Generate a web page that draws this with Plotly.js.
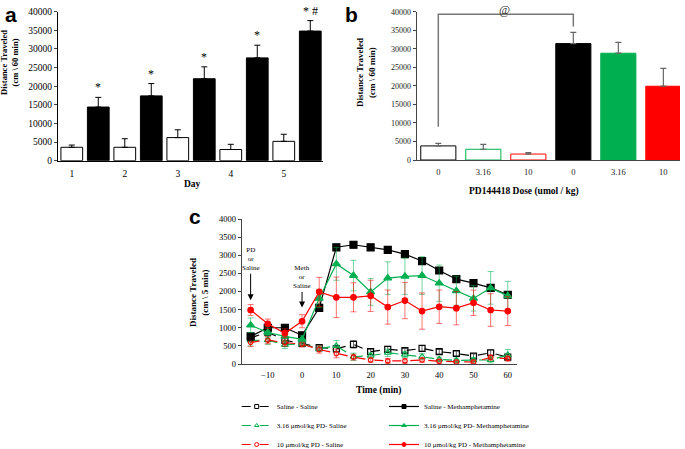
<!DOCTYPE html>
<html>
<head>
<meta charset="utf-8">
<script src="https://cdn.plot.ly/plotly-3.0.1.min.js"></script>
<style>html,body{margin:0;padding:0;background:#fff}#chart{width:685px;height:449px}</style>
</head>
<body>
<div id="chart"></div>
<script>
// ---------- Panel a ----------
const days = [1, 2, 3, 4, 5];
const dayLabels = ['1', '2', '3', '4', '5'];
const salineA = [3600, 3600, 6200, 3000, 5200];
const salineAErr = [600, 2300, 2100, 1400, 1900];
const methA = [14400, 17400, 22000, 27600, 34800];
const methAErr = [2600, 3300, 3200, 3400, 2800];
const sigA = ['*', '*', '*', '*', '* #'];

// ---------- Panel b ----------
const doseLabels = ['0', '3.16', '10', '0', '3.16', '10'];
const doseVals = [3800, 2900, 1600, 31400, 28800, 19900];
const doseErr = [700, 1300, 400, 3000, 2900, 4800];
const doseFill = ['#ffffff', '#ffffff', '#ffffff', '#000000', '#00b050', '#ff0000'];
const doseLine = ['#000000', '#00b050', '#ff0000', '#000000', '#00b050', '#ff0000'];

// ---------- Panel c ----------
const time = [-15, -10, -5, 0, 5, 10, 15, 20, 25, 30, 35, 40, 45, 50, 55, 60];
const timeTicks = [-10, 0, 10, 20, 30, 40, 50, 60];
const salSal = [720, 880, 650, 570, 450, 420, 540, 340, 405, 370, 430, 340, 290, 220, 310, 190];
const salSalErr = [100, 100, 90, 80, 70, 80, 100, 70, 80, 60, 80, 60, 60, 60, 70, 60];
const salMeth = [760, 1000, 1000, 790, 1550, 3220, 3290, 3220, 3150, 3030, 2840, 2580, 2340, 2230, 2100, 1910];
const salMethErr = [100, 80, 70, 80, 100, 80, 90, 80, 70, 60, 90, 80, 80, 70, 80, 90];
const pd316Sal = [650, 660, 530, 560, 420, 500, 200, 230, 310, 260, 200, 130, 100, 110, 110, 250];
const pd316SalErr = [150, 120, 100, 80, 80, 150, 100, 80, 100, 80, 80, 60, 60, 70, 80, 150];
const pd316Meth = [1070, 870, 760, 680, 1810, 2760, 2440, 1990, 2370, 2420, 2440, 2230, 2020, 1810, 2100, 1880];
const pd316MethErr = [200, 150, 120, 100, 250, 450, 420, 370, 450, 500, 520, 500, 400, 350, 450, 400];
const pd10Sal = [600, 660, 590, 550, 400, 290, 190, 110, 85, 85, 110, 75, 55, 55, 180, 150];
const pd10SalErr = [120, 100, 100, 80, 100, 120, 80, 60, 60, 60, 60, 50, 50, 50, 70, 70];
const pd10Meth = [1490, 1110, 850, 1180, 1990, 1840, 1840, 1880, 1570, 1750, 1460, 1580, 1540, 1690, 1490, 1460];
const pd10MethErr = [150, 130, 120, 180, 400, 560, 400, 430, 470, 500, 500, 460, 460, 350, 450, 400];
const seriesNames = ['Saline - Saline', 'Saline - Methamphetamine',
  '3.16 \u03bcmol/kg PD- Saline', '3.16 \u03bcmol/kg PD- Methamphetamine',
  '10 \u03bcmol/kg PD - Saline', '10 \u03bcmol/kg PD - Methamphetamine'];

const SERIF = 'Liberation Serif, Times New Roman, serif';
const GREEN = '#00b050', RED = '#ff0000';

const traces = [];
// panel a bars
traces.push({type: 'bar', x: days, y: salineA, width: 0.41, xaxis: 'x', yaxis: 'y',
  marker: {color: '#ffffff', line: {color: '#000', width: 1}},
  error_y: {type: 'data', symmetric: false, array: salineAErr, arrayminus: salineAErr.map(() => 0), color: '#000', thickness: 1, width: 3},
  showlegend: false, hoverinfo: 'skip'});
traces.push({type: 'bar', x: days.map(d => d + 0.5), y: methA, width: 0.41, xaxis: 'x', yaxis: 'y',
  marker: {color: '#000000', line: {color: '#000', width: 1}},
  error_y: {type: 'data', symmetric: false, array: methAErr, arrayminus: methAErr.map(() => 0), color: '#000', thickness: 1, width: 3},
  showlegend: false, hoverinfo: 'skip'});
// panel b bars
const doseIdx = doseLabels.map((_, i) => i);
traces.push({type: 'bar', x: doseIdx, y: doseVals, width: 0.78, xaxis: 'x2', yaxis: 'y2',
  marker: {color: doseFill, line: {color: doseLine, width: 1}},
  error_y: {type: 'data', symmetric: false, array: doseErr, arrayminus: doseErr.map(() => 0), color: '#666', thickness: 1.2, width: 3},
  showlegend: false, hoverinfo: 'skip'});

// panel c lines
function line(y, err, color, symbol, dash, size, errColor) {
  return {type: 'scatter', mode: 'lines+markers', x: time, y: y, xaxis: 'x3', yaxis: 'y3', showlegend: false,
    line: {color: color, width: 1.2, dash: dash},
    marker: {color: color, symbol: symbol, size: size, line: {color: color, width: 1.2}},
    error_y: {type: 'data', array: err, color: errColor, thickness: 1, width: 3},
    hoverinfo: 'skip'};
}
function legendEntry(name, color, symbol, dash, legend) {
  return {type: 'scatter', mode: 'lines+markers', x: [null], y: [null], xaxis: 'x3', yaxis: 'y3', name: name,
    legend: legend, line: {color: color, width: 1.2, dash: dash},
    marker: {color: color, symbol: symbol, size: 4, line: {color: color, width: 1}}, hoverinfo: 'skip'};
}
traces.push(line(salSal, salSalErr, '#000', 'square-open', 'dash', 6, 'rgba(0,0,0,0.6)'));
traces.push(line(pd316Sal, pd316SalErr, GREEN, 'triangle-up-open', 'dash', 6, 'rgba(0,176,80,0.55)'));
traces.push(line(pd10Sal, pd10SalErr, RED, 'circle-open', 'dash', 4.5, 'rgba(255,0,0,0.55)'));
traces.push(line(salMeth, salMethErr, '#000', 'square', 'solid', 7, 'rgba(0,0,0,0.6)'));
traces.push(line(pd316Meth, pd316MethErr, GREEN, 'triangle-up', 'solid', 7, 'rgba(0,176,80,0.55)'));
traces.push(line(pd10Meth, pd10MethErr, RED, 'circle', 'solid', 5.5, 'rgba(255,0,0,0.55)'));
traces.push(legendEntry(seriesNames[0], '#000', 'square-open', 'dash', 'legend'));
traces.push(legendEntry(seriesNames[2], GREEN, 'triangle-up-open', 'dash', 'legend'));
traces.push(legendEntry(seriesNames[4], RED, 'circle-open', 'dash', 'legend'));
traces.push(legendEntry(seriesNames[1], '#000', 'square', 'solid', 'legend2'));
traces.push(legendEntry(seriesNames[3], GREEN, 'triangle-up', 'solid', 'legend2'));
traces.push(legendEntry(seriesNames[5], RED, 'circle', 'solid', 'legend2'));

const W = 685, H = 449;
const annotations = [];
// asterisks panel a
days.forEach((d, i) => {
  annotations.push({xref: 'x', yref: 'y', x: d + 0.5, y: methA[i] + methAErr[i], text: sigA[i],
    showarrow: false, yanchor: 'bottom', yshift: 1, font: {family: SERIF, size: 12, color: '#000'}});
});
// @ for panel b
annotations.push({xref: 'x2', yref: 'paper', x: 1.48, y: (H - 1) / H, text: '@', showarrow: false,
  yanchor: 'top', font: {family: SERIF, size: 12, color: '#333'}});
// arrows panel c
annotations.push({xref: 'x3', yref: 'y3', x: time[0], y: 1760, text: 'PD<br>or<br>Saline', showarrow: true,
  arrowhead: 2, arrowsize: 1.2, arrowwidth: 1, arrowcolor: '#000', ax: 0, ay: -41,
  font: {family: SERIF, size: 7, color: '#000'}});
annotations.push({xref: 'x3', yref: 'y3', x: time[3], y: 1560, text: 'Meth<br>or<br>Saline', showarrow: true,
  arrowhead: 2, arrowsize: 1.2, arrowwidth: 1, arrowcolor: '#000', ax: 0, ay: -30,
  font: {family: SERIF, size: 7, color: '#000'}});
// panel letters
[['a', 3, 1], ['b', 343, 1], ['c', 187, 203]].forEach(p => {
  annotations.push({xref: 'paper', yref: 'paper', x: p[1] / W, y: 1 - p[2] / H, text: '<b>' + p[0] + '</b>',
    showarrow: false, xanchor: 'left', yanchor: 'top', font: {family: 'Liberation Sans, Arial, sans-serif', size: 21, color: '#000'}});
});
// axis titles (placed as paper annotations)
function title(text, px, py, size, angle) {
  annotations.push({xref: 'paper', yref: 'paper', x: px / W, y: 1 - py / H, text: '<b>' + text + '</b>',
    showarrow: false, xanchor: 'center', yanchor: 'middle', textangle: angle || 0,
    font: {family: SERIF, size: size, color: '#000'}});
}
title('Distance Traveled<br>(cm \\ 60 min)', 10, 63, 8.5, -90);
title('Day', 192, 184, 9.5);
title('Distance Traveled<br>(cm \\ 60 min)', 366, 72, 9, -90);
title('PD144418 Dose (umol / kg)', 523.5, 191, 9.5);
title('Distance Traveled<br>(cm \\ 5 min)', 199, 293, 9, -90);
title('Time (min)', 379, 390.5, 9.5);

const shapes = [
  {type: 'path', xref: 'x2', yref: 'y2', path: 'M 0 9000 L 0 39300 L 3 39300 L 3 36000',
    line: {color: '#777', width: 1.5}}
];

const axFont = {family: SERIF, size: 9.5, color: '#000'};
const layout = {
  width: W, height: H, margin: {l: 0, r: 0, t: 0, b: 0, autoexpand: false},
  paper_bgcolor: '#fff', plot_bgcolor: '#fff', barmode: 'overlay',
  font: {family: SERIF, color: '#000'},
  xaxis: {domain: [58 / W, 323 / W], range: [0.74, 5.74], tickvals: days, ticktext: dayLabels, anchor: 'y',
    showgrid: false, zeroline: false, showline: true, linecolor: '#000', linewidth: 1, ticks: '',
    ticklabelstandoff: 4, tickfont: axFont},
  yaxis: {domain: [1 - 160.7 / H, 1 - 11.7 / H], range: [0, 40000], dtick: 5000, tickformat: 'd', anchor: 'x',
    showgrid: false, zeroline: false, showline: true, linecolor: '#000', linewidth: 1, ticks: 'outside', ticklen: 3,
    tickfont: axFont},
  xaxis2: {domain: [416.7 / W, 680 / W], range: [-0.48, 5.37], tickvals: doseIdx, ticktext: doseLabels, anchor: 'y2',
    showgrid: false, zeroline: false, showline: true, linecolor: '#444', linewidth: 1, ticks: '',
    ticklabelstandoff: 4, tickfont: {family: SERIF, size: 8.5, color: '#222'}},
  yaxis2: {domain: [1 - 160 / H, 1 - 11.7 / H], range: [0, 40000], dtick: 5000, tickformat: 'd', anchor: 'x2',
    showgrid: false, zeroline: false, showline: true, linecolor: '#444', linewidth: 1, ticks: 'outside', ticklen: 3, tickcolor: '#444',
    tickfont: {family: SERIF, size: 8, color: '#222'}},
  xaxis3: {domain: [241.7 / W, 516.7 / W], range: [-17.6, 62.6], tickvals: timeTicks, anchor: 'y3',
    showgrid: false, zeroline: false, showline: true, linecolor: '#444', linewidth: 1, ticks: '',
    ticklabelstandoff: 3, tickfont: {family: SERIF, size: 8.5, color: '#000'}},
  yaxis3: {domain: [1 - 364 / H, 1 - 219 / H], range: [0, 4000], dtick: 500, tickformat: 'd', anchor: 'x3',
    showgrid: false, zeroline: false, showline: true, linecolor: '#444', linewidth: 1, ticks: 'outside', ticklen: 3, tickcolor: '#444',
    tickfont: {family: SERIF, size: 8.5, color: '#000'}},
  legend: {x: 236.7 / W, y: 1 - 392 / H, xanchor: 'left', yanchor: 'top', bgcolor: 'rgba(0,0,0,0)',
    font: {family: SERIF, size: 7}, itemwidth: 30, tracegroupgap: 0},
  legend2: {x: 384 / W, y: 1 - 392 / H, xanchor: 'left', yanchor: 'top', bgcolor: 'rgba(0,0,0,0)',
    font: {family: SERIF, size: 7}, itemwidth: 30, tracegroupgap: 0},
  annotations: annotations, shapes: shapes
};
Plotly.newPlot('chart', traces, layout, {staticPlot: true, displayModeBar: false});
</script>
</body>
</html>
